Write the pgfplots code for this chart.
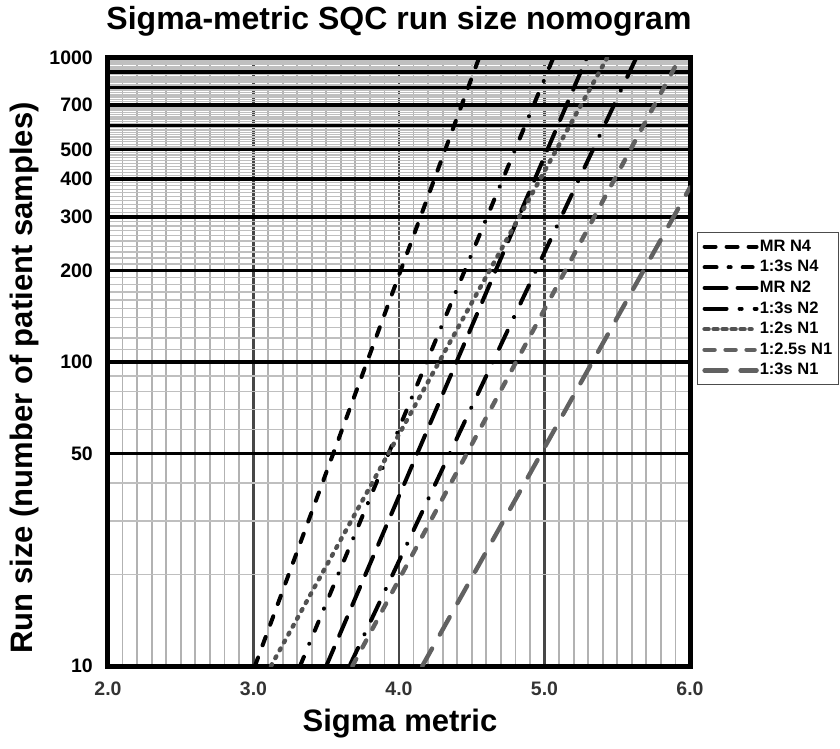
\documentclass[border=0pt]{standalone}
\usepackage{fontspec}
\setmainfont{Liberation Sans}
\usepackage{pgfplots}
\pgfplotsset{compat=1.18}

\begin{document}
\begin{tikzpicture}[x=1pt, y=1pt]
    \begin{semilogyaxis}[
        scale only axis, width=582pt, height=608pt,
        xmin=2, xmax=6, ymin=10, ymax=1000,
        xtick={2,3,4,5,6}, minor x tick num=9,
        ytick={10,50,100,200,300,400,500,600,700,800,900,1000},
        yticklabels={10,50,100,200,300,400,500,,700,,,1000},
        minor ytick={20,30,40,60,70,80,90,
            110,120,130,140,150,160,170,180,190,
            210,220,230,240,250,260,270,280,290,
            310,320,330,340,350,360,370,380,390,
            410,420,430,440,450,460,470,480,490,
            510,520,530,540,550,560,570,580,590,
            610,620,630,640,650,660,670,680,690,
            710,720,730,740,750,760,770,780,790,
            810,820,830,840,850,860,870,880,890,
            910,920,930,940,950,960,970,980,990},
        major tick length=0pt, minor tick length=0pt,
        grid=both,
        minor x grid style={black!30, line width=1.8pt},
        major x grid style={black!72, line width=2.4pt},
        minor y grid style={black!25, line width=1.2pt},
        major y grid style={black, line width=3.8pt},
        axis line style={line width=5pt},
        xticklabel style={/pgf/number format/.cd, fixed, fixed zerofill,
            precision=1, /tikz/.cd, inner sep=0pt, yshift=-16pt,
            text=black!80},
        yticklabel style={inner sep=0pt, xshift=-15pt},
        ticklabel style={font=\bfseries\fontsize{19.5}{19.5}\selectfont},
        /pgf/number format/assume math mode=true,
        legend style={at={(1.012,0.714)}, anchor=north west,
            draw=black!70, line width=0.8pt, inner sep=5pt,
            row sep=1.6pt,
            font=\bfseries\fontsize{16.5}{16.5}\selectfont,
            nodes={inner sep=1pt, text height=13pt, text depth=4pt},
            cells={anchor=west}},
        legend image code/.code={
            \draw[#1] (2pt,0pt) -- (42pt,0pt);
            \path (0pt,0pt) -- (52pt,0pt);},
        every axis plot/.append style={line width=4pt, line cap=round},
    ]
        \addplot[black, dash pattern=on 9pt off 13pt]
            coordinates {(3.01,10) (4.55,1000)};
        \addplot[black, dash pattern=on 10pt off 14pt on 0.1pt off 14pt]
            coordinates {(3.32,10) (5.06,1000)};
        \addplot[black, dash pattern=on 20pt off 13pt]
            coordinates {(3.50,10) (5.29,1000)};
        \addplot[black, dash pattern=on 20pt off 15pt on 0.1pt off 15pt]
            coordinates {(3.66,10) (5.63,1000)};
        \addplot[black!68, line width=4.4pt, dash pattern=on 2pt off 7pt]
            coordinates {(3.12,10) (5.43,1000)};
        \addplot[black!62, line width=4.4pt, dash pattern=on 8pt off 13pt]
            coordinates {(3.68,10) (5.93,1000)};
        \addplot[black!62, line width=4.4pt, dash pattern=on 20pt off 16pt]
            coordinates {(4.16,10) (6.0,375)};
        \legend{MR N4, 1:3s N4, MR N2, 1:3s N2, 1:2s N1, 1:2.5s N1, 1:3s N1}
    \end{semilogyaxis}
    \node[anchor=base, font=\bfseries\fontsize{32}{32}\selectfont]
        at (291, 636) {Sigma-metric SQC run size nomogram};
    \node[anchor=base, font=\bfseries\fontsize{31}{31}\selectfont]
        at (292, -65) {Sigma metric};
    \node[anchor=base, rotate=90, font=\bfseries\fontsize{31}{31}\selectfont]
        at (-75, 288) {Run size (number of patient samples)};
    \pgfresetboundingbox
    \useasboundingbox (-108, -82) rectangle (732, 666);
\end{tikzpicture}
\end{document}
